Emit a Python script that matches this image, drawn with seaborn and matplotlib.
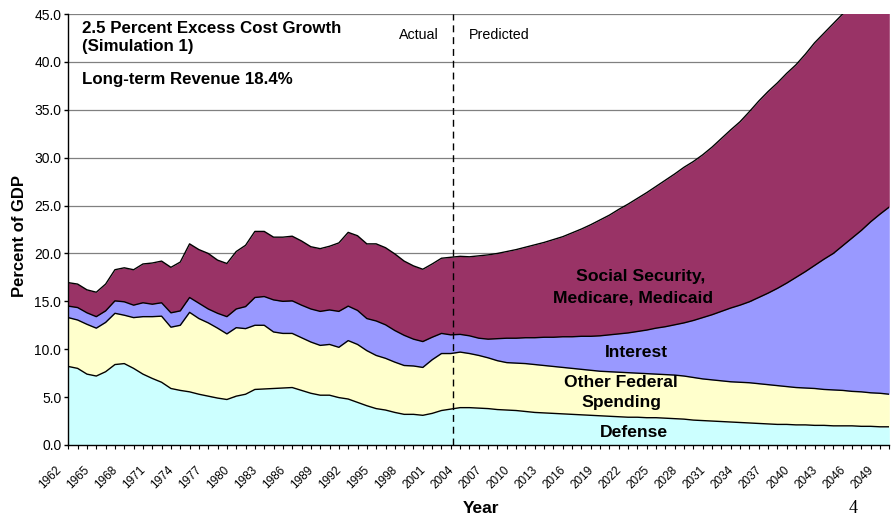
import matplotlib
matplotlib.use("Agg")
import matplotlib.pyplot as plt
import matplotlib.transforms as mtransforms
import numpy as np
import pandas as pd
import seaborn as sns

# =====================================================
# DATA (percent of GDP, stacked tops)
# =====================================================

years = list(range(1962, 2051))

defense_top = [
    8.2, 8.0, 7.4, 7.2, 7.65, 8.4, 8.5, 8.0, 7.4, 6.95,
    6.55, 5.9, 5.7, 5.55, 5.3, 5.1, 4.9, 4.75, 5.1, 5.3,
    5.8, 5.85, 5.9, 5.95, 6.0, 5.7, 5.4, 5.2, 5.2, 4.95,
    4.8, 4.45, 4.1, 3.8, 3.65, 3.4, 3.2, 3.2, 3.1, 3.3,
    3.6, 3.75, 3.9, 3.9, 3.85, 3.8, 3.7, 3.65, 3.6, 3.5,
    3.4, 3.35, 3.3, 3.25, 3.2, 3.15, 3.1, 3.05, 3.0, 2.95,
    2.9, 2.9, 2.85, 2.85, 2.8, 2.75, 2.7, 2.6, 2.55, 2.5,
    2.45, 2.4, 2.35, 2.3, 2.25, 2.2, 2.15, 2.15, 2.1, 2.1,
    2.05, 2.05, 2.0, 2.0, 2.0, 1.95, 1.95, 1.9, 1.9,
]

other_top = [
    13.3, 13.05, 12.6, 12.2, 12.8, 13.75, 13.55, 13.3, 13.4, 13.4,
    13.45, 12.3, 12.5, 13.85, 13.2, 12.75, 12.2, 11.6, 12.25, 12.15,
    12.5, 12.5, 11.8, 11.65, 11.65, 11.2, 10.75, 10.4, 10.5, 10.2,
    10.9, 10.5, 9.85, 9.35, 9.05, 8.65, 8.3, 8.25, 8.1, 8.9,
    9.55, 9.55, 9.7, 9.55, 9.35, 9.1, 8.8, 8.6, 8.55, 8.5,
    8.4, 8.3, 8.2, 8.1, 8.0, 7.9, 7.8, 7.7, 7.65, 7.6,
    7.55, 7.5, 7.45, 7.4, 7.35, 7.3, 7.2, 7.05, 6.9, 6.8,
    6.7, 6.6, 6.55, 6.5, 6.4, 6.3, 6.2, 6.1, 6.0, 5.95,
    5.9, 5.8, 5.75, 5.7, 5.6, 5.55, 5.45, 5.4, 5.3,
]

interest_top = [
    14.5, 14.35, 13.8, 13.4, 14.0, 15.05, 14.95, 14.6, 14.85, 14.7,
    14.85, 13.8, 14.0, 15.4, 14.8, 14.2, 13.75, 13.4, 14.2, 14.45,
    15.4, 15.5, 15.15, 15.0, 15.05, 14.6, 14.2, 13.95, 14.1, 13.95,
    14.5, 14.05, 13.2, 12.95, 12.55, 11.95, 11.45, 11.05, 10.8, 11.25,
    11.65, 11.5, 11.55, 11.4, 11.15, 11.05, 11.1, 11.15, 11.15, 11.2,
    11.2, 11.25, 11.25, 11.3, 11.3, 11.35, 11.35, 11.4, 11.5, 11.6,
    11.7, 11.85, 12.0, 12.2, 12.35, 12.55, 12.75, 13.0, 13.3, 13.6,
    13.95, 14.3, 14.6, 14.95, 15.4, 15.85, 16.35, 16.9, 17.5, 18.1,
    18.75, 19.4, 20.0, 20.8, 21.6, 22.4, 23.3, 24.1, 24.85,
]

total_top = [
    16.95, 16.8, 16.2, 15.95, 16.8, 18.3, 18.5, 18.3, 18.9, 19.0,
    19.2, 18.55, 19.1, 21.0, 20.4, 20.0, 19.3, 18.95, 20.2, 20.85,
    22.3, 22.3, 21.7, 21.7, 21.8, 21.3, 20.7, 20.5, 20.75, 21.1,
    22.2, 21.85, 21.0, 21.0, 20.6, 19.95, 19.2, 18.7, 18.35, 18.9,
    19.5, 19.6, 19.7, 19.65, 19.75, 19.85, 20.0, 20.2, 20.4, 20.65,
    20.9, 21.15, 21.45, 21.75, 22.15, 22.55, 23.0, 23.5, 24.0, 24.6,
    25.15, 25.75, 26.35, 27.0, 27.65, 28.3, 29.0, 29.6, 30.3, 31.1,
    32.0, 32.9, 33.75, 34.8, 35.9, 36.9, 37.8, 38.8, 39.7, 40.8,
    42.0, 43.0, 44.0, 45.0, 46.1, 47.2, 48.3, 49.4, 50.5,
]

tick_years = years[::3]
split_year = 2003.26

df = pd.DataFrame({
    "year": years,
    "base": [0.0] * len(years),
    "defense": defense_top,
    "other": other_top,
    "interest": interest_top,
    "total": total_top,
})

# =====================================================
# FIGURE
# =====================================================

sns.set_style("white")
plt.rcParams["font.family"] = ["Liberation Sans", "DejaVu Sans"]
plt.rcParams["text.color"] = "black"
plt.rcParams["axes.labelcolor"] = "black"
plt.rcParams["xtick.color"] = "black"
plt.rcParams["ytick.color"] = "black"

fig = plt.figure(figsize=(8.91, 5.19), dpi=100)
ax = fig.add_axes([68.3 / 891, 1 - 445 / 519, 821 / 891, 431 / 519])

layers = [
    ("base", "defense", "#CCFFFF"),
    ("defense", "other", "#FFFFCC"),
    ("other", "interest", "#9999FF"),
    ("interest", "total", "#993366"),
]
for lo, hi, color in layers:
    ax.fill_between(df["year"], df[lo], df[hi], color=color, lw=0, zorder=1)

for col in ["defense", "other", "interest", "total"]:
    sns.lineplot(data=df, x="year", y=col, color="black", lw=1.0, ax=ax, zorder=2)

ax.axvline(split_year, color="black", lw=1.0, ls=(0, (5, 3.5)), zorder=3)

ax.set_xlim(1962, 2050)
ax.set_ylim(0, 45)

# y axis
ax.set_yticks(np.arange(0, 46, 5))
ax.set_yticklabels([f"{v:.1f}" for v in np.arange(0, 46, 5)])
ax.yaxis.grid(True, color="#808080", lw=0.9)
ax.set_axisbelow(True)
ax.tick_params(axis="y", left=True, direction="out", length=3, width=1,
               labelsize=10, pad=2, colors="black")

# x axis
ax.set_xticks(tick_years)
ax.set_xticks(years, minor=True)
ax.set_xticklabels([str(y) for y in tick_years], rotation=45, ha="right",
                   va="center", rotation_mode="anchor", fontsize=8.5)
ax.tick_params(axis="x", which="both", bottom=True, direction="out",
               length=3, width=0.8, pad=14, colors="black")
shift = mtransforms.ScaledTranslation(-6 / 72, 0, fig.dpi_scale_trans)
for lab in ax.get_xticklabels():
    lab.set_transform(lab.get_transform() + shift)

ax.set_xlabel("")
ax.set_ylabel("")

for side in ["top", "right"]:
    ax.spines[side].set_visible(False)
for side in ["left", "bottom"]:
    ax.spines[side].set_color("black")
    ax.spines[side].set_linewidth(1.0)

# =====================================================
# TEXT
# =====================================================

fig.text(82 / 891, 1 - 33 / 519, "2.5 Percent Excess Cost Growth",
         fontsize=12.2, fontweight="bold", va="baseline")
fig.text(82 / 891, 1 - 50.5 / 519, "(Simulation 1)",
         fontsize=12.2, fontweight="bold", va="baseline")
fig.text(82 / 891, 1 - 84 / 519, "Long-term Revenue 18.4%",
         fontsize=12.2, fontweight="bold", va="baseline")

fig.text(419 / 891, 1 - 39.3 / 519, "Actual", fontsize=10.3, ha="center", va="baseline")
fig.text(499 / 891, 1 - 39.3 / 519, "Predicted", fontsize=10.3, ha="center", va="baseline")

area_font = dict(fontsize=12.6, fontweight="bold", ha="center", va="baseline")
ax.text(2023.38, 17.1, "Social Security,", **area_font)
ax.text(2022.52, 14.9, "Medicare, Medicaid", **area_font)
ax.text(2022.85, 9.19, "Interest", **area_font)
ax.text(2021.24, 6.06, "Other Federal", **area_font)
ax.text(2021.24, 3.97, "Spending", **area_font)
ax.text(2022.63, 0.84, "Defense", **area_font)

fig.text(0.022, 0.545, "Percent of GDP", rotation=90, fontsize=12,
         fontweight="bold", ha="center", va="center")
fig.text(481 / 891, 1 - 513 / 519, "Year", fontsize=12.5, fontweight="bold",
         ha="center", va="baseline")
fig.text(853 / 891, 1 - 513 / 519, "4", fontsize=13, family="Liberation Serif",
         ha="center", va="baseline")

plt.savefig("out.png", dpi=100)
